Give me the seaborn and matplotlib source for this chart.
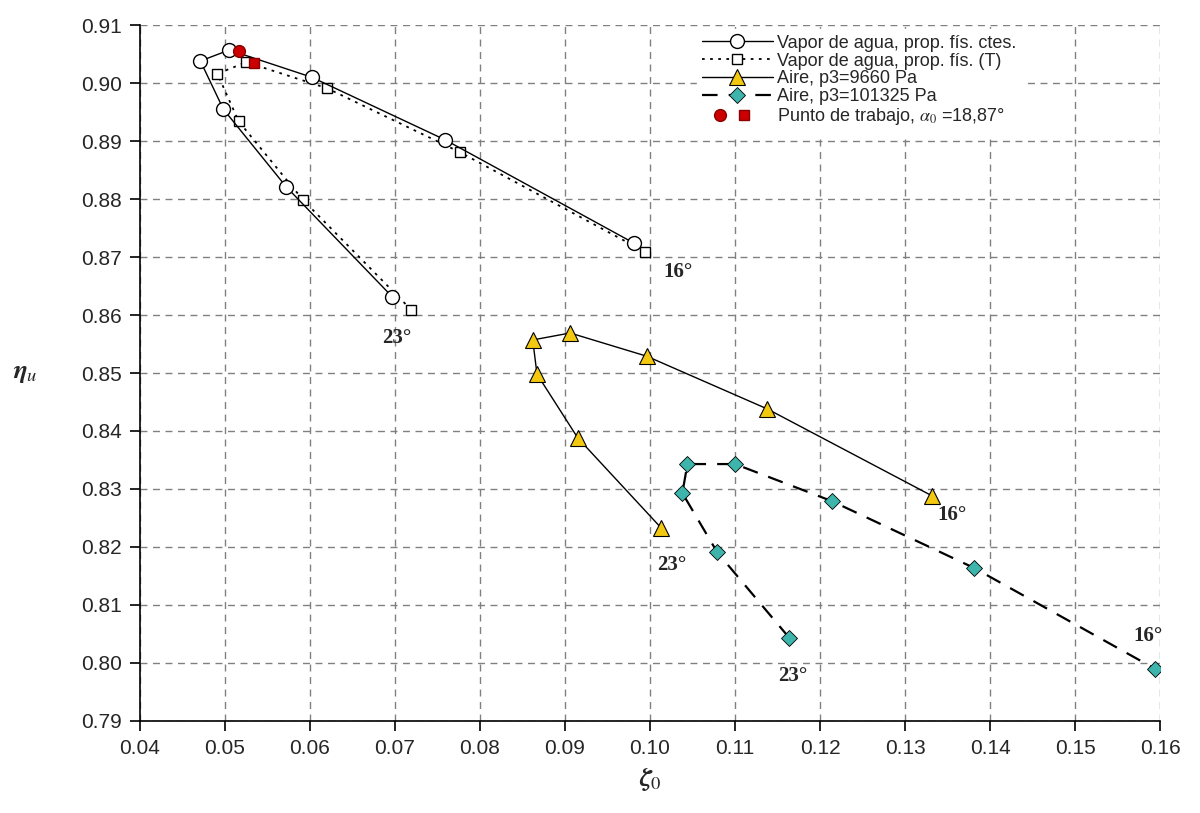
import matplotlib
matplotlib.use("Agg")
import matplotlib.pyplot as plt
from matplotlib.legend_handler import HandlerBase
import matplotlib.lines as mlines
import seaborn as sns

# data (ordered from the 23 deg end to the 16 deg end)
vap_cte_x = [0.0697, 0.0572, 0.0498, 0.0471, 0.0505, 0.0602, 0.0759, 0.0981]
vap_cte_y = [0.8631, 0.8821, 0.8955, 0.9038, 0.9057, 0.9010, 0.8902, 0.8724]

vap_T_x = [0.0719, 0.0592, 0.0516, 0.0491, 0.0525, 0.0620, 0.0776, 0.0994]
vap_T_y = [0.8609, 0.8798, 0.8934, 0.9016, 0.9036, 0.8991, 0.8881, 0.8709]

aire1_x = [0.1013, 0.0915, 0.0867, 0.0862, 0.0906, 0.0996, 0.1138, 0.1332]
aire1_y = [0.8233, 0.8388, 0.8498, 0.8557, 0.8569, 0.8529, 0.8438, 0.8288]

aire2_x = [0.1164, 0.1079, 0.1038, 0.1044, 0.1100, 0.1214, 0.1381, 0.1594]
aire2_y = [0.8043, 0.8191, 0.8293, 0.8343, 0.8343, 0.8279, 0.8164, 0.7990]

pt_circ = (0.0516, 0.9055)
pt_sq = (0.0534, 0.9034)

labels = [
    "Vapor de agua, prop. fís. ctes.",
    "Vapor de agua, prop. fís. (T)",
    "Aire, p3=9660 Pa",
    "Aire, p3=101325 Pa",
    r"Punto de trabajo, $\alpha_0$ =18,87°",
]

YELLOW = "#F2C811"
TEAL = "#3DB5AC"
RED = "#CC0000"


class PairHandler(HandlerBase):
    """Red circle + red square side by side, close to the label."""

    def create_artists(self, legend, orig_handle, xdescent, ydescent,
                       width, height, fontsize, trans):
        a, b = orig_handle
        y = height / 2 - ydescent
        out = []
        for h, frac in ((a, 0.25), (b, 0.60)):
            ln = mlines.Line2D([width * frac - xdescent], [y],
                               linestyle="None", marker=h.get_marker(),
                               markersize=h.get_markersize(),
                               markerfacecolor=h.get_markerfacecolor(),
                               markeredgecolor=h.get_markeredgecolor())
            ln.set_transform(trans)
            out.append(ln)
        return out


sns.set_style("white")
plt.rcParams["font.family"] = ["Liberation Sans", "DejaVu Sans"]
plt.rcParams["mathtext.fontset"] = "stix"

fig = plt.figure(figsize=(12, 8.13), dpi=100)
ax = fig.add_axes([0.1167, 0.1132, 0.85, 0.856])

sns.lineplot(x=vap_cte_x, y=vap_cte_y, sort=False, ax=ax, color="black", lw=1,
             marker="o", markersize=10, markerfacecolor="white",
             markeredgecolor="black", markeredgewidth=1, zorder=4)
sns.lineplot(x=vap_T_x, y=vap_T_y, sort=False, ax=ax, color="black", lw=1.3,
             linestyle=(0, (1.5, 3)), marker="s", markersize=6.5,
             markerfacecolor="white", markeredgecolor="black",
             markeredgewidth=1, zorder=3)
sns.lineplot(x=aire1_x, y=aire1_y, sort=False, ax=ax, color="black", lw=1,
             marker="^", markersize=11, markerfacecolor=YELLOW,
             markeredgecolor="black", markeredgewidth=0.8, zorder=4)
sns.lineplot(x=aire2_x, y=aire2_y, sort=False, ax=ax, color="black", lw=1.6,
             linestyle=(0, (7, 5)), marker="D", markersize=8,
             markerfacecolor=TEAL, markeredgecolor="black",
             markeredgewidth=0.6, zorder=4)
ax.plot(*pt_circ, "o", color=RED, markersize=8.5, markeredgecolor="#880000",
        zorder=6)
ax.plot(*pt_sq, "s", color=RED, markersize=7, markeredgecolor="#880000",
        zorder=6)

# end labels
ann = dict(textcoords="offset pixels", fontsize=15, fontweight="bold",
           family="Liberation Serif", va="center", ha="left")
ax.annotate("16°", (vap_cte_x[-1], vap_cte_y[-1]), xytext=(29, -29), **ann)
ax.annotate("23°", (vap_cte_x[0], vap_cte_y[0]), xytext=(-10, -41), **ann)
ax.annotate("16°", (aire1_x[-1], aire1_y[-1]), xytext=(5, -19), **ann)
ax.annotate("23°", (aire1_x[0], aire1_y[0]), xytext=(-4, -37), **ann)
ax.annotate("16°", (aire2_x[-1], aire2_y[-1]), xytext=(-22, 33), **ann)
ax.annotate("23°", (aire2_x[0], aire2_y[0]), xytext=(-11, -38), **ann)

ax.set_xlim(0.04, 0.16)
ax.set_ylim(0.79, 0.91)
ax.set_xticks([0.04 + 0.01 * i for i in range(13)])
ax.set_yticks([0.79 + 0.01 * i for i in range(13)])
ax.set_xticklabels([f"{0.04 + 0.01 * i:.2f}" for i in range(13)])
ax.set_yticklabels([f"{0.79 + 0.01 * i:.2f}" for i in range(13)])
ax.tick_params(axis="both", labelsize=15, direction="out", length=7,
               width=1.2, color="black", left=True, bottom=True, pad=6)
ax.grid(True, color="#808080", linestyle=(0, (5, 4)), linewidth=1)
for s in ["top", "right"]:
    ax.spines[s].set_visible(False)
for s in ["left", "bottom"]:
    ax.spines[s].set_color("black")
    ax.spines[s].set_linewidth(1.2)

ax.set_xlabel(r"$\boldsymbol{\zeta}_0$", fontsize=19, labelpad=6)
ax.set_ylabel(r"$\boldsymbol{\eta}_u$", fontsize=19, rotation=0,
              labelpad=40, va="center")

h1 = mlines.Line2D([], [], color="black", lw=1, marker="o", markersize=10,
                   markerfacecolor="white", markeredgecolor="black")
h2 = mlines.Line2D([], [], color="black", lw=1.3, linestyle=(0, (1.5, 3)),
                   marker="s", markersize=6.5, markerfacecolor="white",
                   markeredgecolor="black")
h3 = mlines.Line2D([], [], color="black", lw=1, marker="^", markersize=11,
                   markerfacecolor=YELLOW, markeredgecolor="black",
                   markeredgewidth=0.8)
h4 = mlines.Line2D([], [], color="black", lw=1.6, linestyle=(0, (7, 5)),
                   marker="D", markersize=8, markerfacecolor=TEAL,
                   markeredgecolor="black", markeredgewidth=0.6)
h5a = mlines.Line2D([], [], linestyle="None", marker="o", color=RED,
                    markerfacecolor=RED, markersize=8.5,
                    markeredgecolor="#880000")
h5b = mlines.Line2D([], [], linestyle="None", marker="s", color=RED,
                    markerfacecolor=RED, markersize=7,
                    markeredgecolor="#880000")
leg = ax.legend([h1, h2, h3, h4, (h5a, h5b)], labels,
                handler_map={tuple: PairHandler()},
                loc="upper left", bbox_to_anchor=(0.537, 1.007),
                fontsize=13, handlelength=3.9, handletextpad=0.25,
                labelspacing=0.05, borderpad=0.3, numpoints=1,
                frameon=True, fancybox=False, framealpha=1,
                edgecolor="white", facecolor="white")
leg.set_zorder(10)

fig.savefig("out.png", dpi=100)
